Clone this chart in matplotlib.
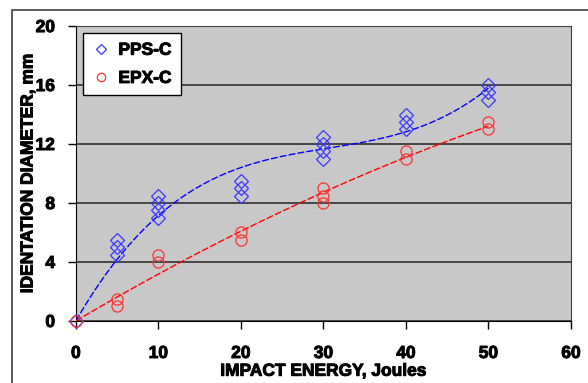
import numpy as np
import matplotlib.pyplot as plt
import matplotlib.patheffects as pe
from matplotlib.patches import Rectangle
from matplotlib import font_manager as fm

# PPS-C
pps_x = [0, 5, 5, 5, 10, 10, 10, 10, 20, 20, 20, 30, 30, 30, 30, 40, 40, 40, 50, 50, 50]
pps_y = [0, 4.5, 5.0, 5.5, 7.0, 7.5, 8.0, 8.5, 8.5, 9.0, 9.5, 11.0, 11.5, 12.0, 12.5, 13.0, 13.5, 14.0, 15.0, 15.5, 16.0]
# EPX-C
epx_x = [0, 5, 5, 10, 10, 20, 20, 30, 30, 30, 40, 40, 50, 50]
epx_y = [0, 1.0, 1.5, 4.0, 4.5, 5.5, 6.0, 8.0, 8.5, 9.0, 11.0, 11.5, 13.0, 13.5]
x_ticks = [0, 10, 20, 30, 40, 50, 60]
y_ticks = [0, 4, 8, 12, 16, 20]

# pick a family that really has a bold face installed
fam = 'DejaVu Sans'
for f in ['Liberation Sans', 'Arimo', 'Roboto', 'Noto Sans', 'Open Sans', 'Inter', 'Lato']:
    try:
        p = fm.findfont(fm.FontProperties(family=f, weight='bold'), fallback_to_default=False)
    except Exception:
        continue
    if 'bold' in p.lower():
        fam = f
        break
bold = fm.FontProperties(family=fam, weight='bold', size=12.5)
thick = [pe.withStroke(linewidth=0.7, foreground='black')]

fig = plt.figure(figsize=(5.88, 3.83), dpi=100)
ax = fig.add_axes([0.129, 0.162, 0.842, 0.770])
ax.set_facecolor('#c8c8c8')

# figure border (cropped on the right/bottom)
fig.patches.append(Rectangle((12/588, -0.1), 1.0, 1 - 10/383 + 0.1, transform=fig.transFigure,
                             fill=False, edgecolor='#404040', lw=1.2))

# trend lines through the origin (Excel polynomial trendline, intercept = 0)
def fit0(x, y, deg):
    x = np.asarray(x, float)
    A = np.column_stack([x ** k for k in range(1, deg + 1)])
    c, *_ = np.linalg.lstsq(A, np.asarray(y, float), rcond=None)
    return lambda t: sum(c[k - 1] * t ** k for k in range(1, deg + 1))

xs = np.linspace(0, 50, 200)
fb = fit0(pps_x, pps_y, 3)
fr = fit0(epx_x, epx_y, 2)
ax.plot(xs, fb(xs), color='#0000ff', lw=1, ls=(0, (5, 1.5)), zorder=3)
ax.plot(xs, fr(xs), color='#ff0000', lw=1, ls=(0, (5, 1.5)), zorder=3)

ax.plot(pps_x, pps_y, ls='none', marker='D', ms=7, mfc='none', mec='#3838ff', mew=0.9,
        label='PPS-C', zorder=4, clip_on=False)
ax.plot(epx_x, epx_y, ls='none', marker='o', ms=8, mfc='none', mec='#ff3333', mew=0.9,
        label='EPX-C', zorder=4, clip_on=False)

ax.set_xlim(0, 60)
ax.set_ylim(0, 20)
ax.set_xticks(x_ticks)
ax.set_yticks(y_ticks)
ax.yaxis.grid(True, color='#303030', lw=1.2)
ax.set_axisbelow(True)
ax.tick_params(direction='out', length=6, width=1)
ax.tick_params(axis='x', pad=12)
ax.tick_params(axis='y', pad=9)
ax.set_xticklabels([str(v) for v in x_ticks], fontproperties=bold)
ax.set_yticklabels([str(v) for v in y_ticks], fontproperties=bold)

for s in ['top', 'right']:
    ax.spines[s].set_color('#404040')
for s in ['left', 'bottom']:
    ax.spines[s].set_color('black')

ax.set_xlabel('IMPACT ENERGY, Joules', fontproperties=bold, labelpad=2)
ax.set_ylabel('IDENTATION DIAMETER, mm', fontproperties=bold, labelpad=0)

leg = ax.legend(loc='upper left', prop=bold, frameon=True, fancybox=False,
                edgecolor='black', framealpha=1, markerscale=0.75, handlelength=1,
                handletextpad=0.5, borderpad=0.55, labelspacing=0.75, borderaxespad=0,
                bbox_to_anchor=(7/495, 1 - 7/295))
leg.get_frame().set_linewidth(1)

for t in ax.get_xticklabels() + ax.get_yticklabels() + leg.get_texts() + [ax.xaxis.label, ax.yaxis.label]:
    t.set_path_effects(thick)

fig.savefig('out.png', dpi=100)
